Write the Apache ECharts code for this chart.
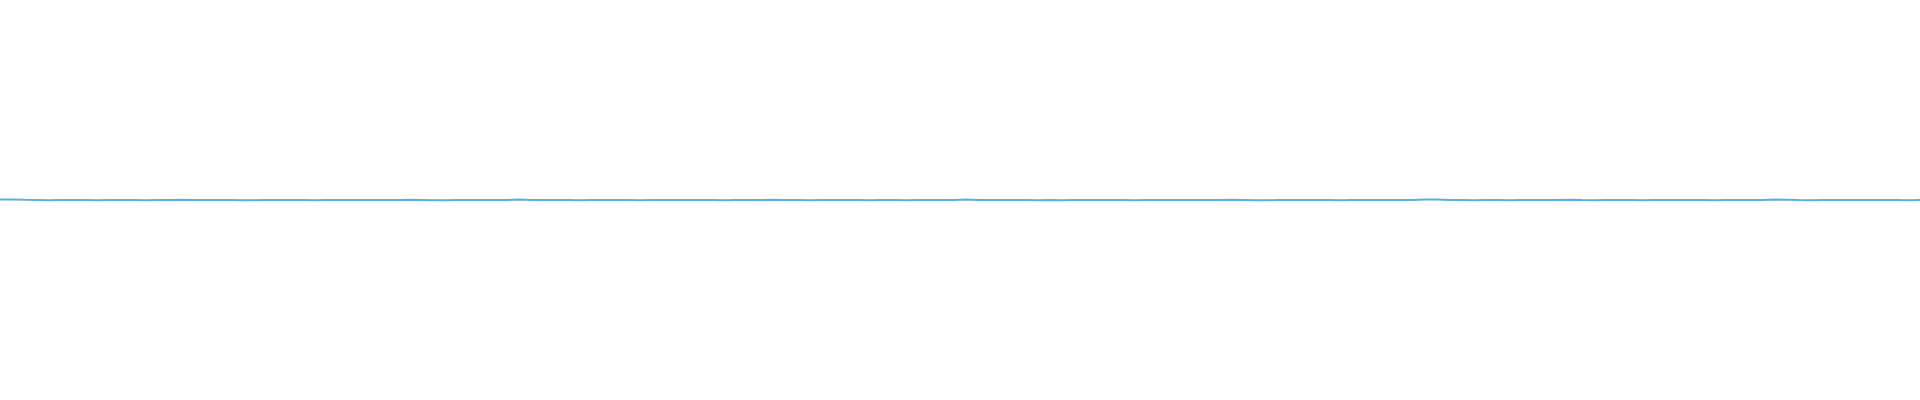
<!DOCTYPE html>
<html lang="en">
<head>
  <meta charset="UTF-8">
  <title>Chart</title>
  <style>
    html, body { margin: 0; padding: 0; background: #fff; }
  </style>
</head>
<body>
  <div id="main" style="width: 1920px; height: 400px"></div>
  <script src="https://cdn.jsdelivr.net/npm/echarts@6/dist/echarts.min.js"></script>
  <script>
    // values hover around zero, the axis runs -1 .. 1 so the line sits in the middle
    const yMin = -1;
    const yMax = 1;
    const values = [
      0.002, 0.003, 0.001, 0, -0.001, 0, 0.0005, 0, -0.0015, 0,
      0, 0.0005, -0.001, 0, 0, 0.001, 0, -0.0005, 0, 0,
      -0.0015, -0.001, 0, 0.0005, 0, 0, -0.001, 0, 0.0005, 0,
      0, -0.0005, 0, 0, 0.001, 0, -0.001, -0.0015, 0, 0,
      0.0005, 0, 0, 0.002, 0, -0.0005, 0, 0, -0.001, 0,
      0, 0.0005, 0, -0.001, 0, 0, 0, 0.0005, 0, 0,
      -0.001, 0, 0.0005, 0, 0.0015, 0, 0, -0.001, 0, 0,
      0, 0.0005, -0.0015, 0, 0, -0.001, 0, 0, 0.0005, 0,
      0.002, 0, 0, -0.0005, 0, 0, -0.001, 0, -0.0015, 0,
      0, 0.0005, 0, 0, -0.001, 0, 0.0005, 0, 0, -0.0005,
      0, 0, 0.001, 0, -0.001, -0.0015, 0, 0, 0.0005, 0,
      0, -0.001, 0, 0.0005, 0, 0, -0.0005, 0, 0.002, 0.0025,
      0, 0, -0.001, 0, 0, -0.0015, 0, 0.0005, 0, 0,
      0.0015, 0, -0.001, 0, 0, -0.0005, -0.0015, 0, 0, 0.0005,
      0, 0, -0.001, 0, 0.0005, 0, 0, 0.002, 0.0015, 0,
      -0.001, 0, 0, -0.0005, 0, 0, 0.0005, 0, -0.001, 0
    ];
    const categories = values.map((v, i) => i);

    const chart = echarts.init(document.getElementById('main'));
    chart.setOption({
      animation: false,
      grid: { left: 0, right: 0, top: 0, bottom: 0 },
      xAxis: {
        type: 'category',
        data: categories,
        boundaryGap: false,
        show: false
      },
      yAxis: {
        type: 'value',
        min: yMin,
        max: yMax,
        show: false
      },
      series: [
        {
          type: 'line',
          data: values,
          showSymbol: false,
          lineStyle: { color: '#5dade2', width: 2 },
          itemStyle: { color: '#5dade2' }
        }
      ]
    });
  </script>
</body>
</html>
